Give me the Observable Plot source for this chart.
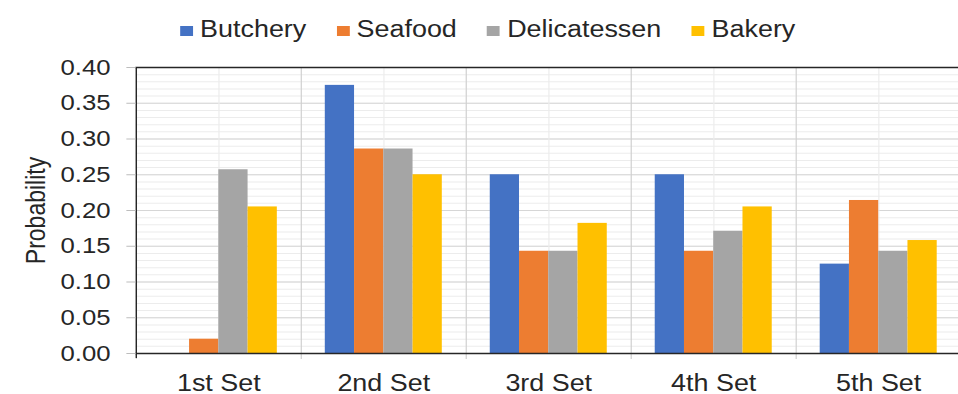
<!DOCTYPE html>
<html>
<head>
<meta charset="utf-8">
<script src="https://cdn.jsdelivr.net/npm/d3@7"></script>
<script src="https://cdn.jsdelivr.net/npm/@observablehq/plot@0.6"></script>
<style>
  html, body { margin: 0; padding: 0; background: #fff; overflow: hidden; }
  #fig { width: 822px; transform: scaleX(1.17); transform-origin: 0 0; font-family: "Liberation Sans", Arial, sans-serif; }
  #legend { height: 50px; box-sizing: border-box; padding-top: 9px; padding-left: 154px; display: flex; align-items: center; font-size: 23px; color: #262626; }
  .item { display: flex; align-items: center; margin-right: 26px; }
  .sw { width: 11px; height: 10px; margin-right: 6px; margin-top: 3px; }
</style>
</head>
<body>
<div id="fig">
  <div id="legend"></div>
  <div id="chart"></div>
</div>
<script>
const sets = ["1st Set", "2nd Set", "3rd Set", "4th Set", "5th Set"];
const categories = ["Butchery", "Seafood", "Delicatessen", "Bakery"];
const butchery     = [0.000, 0.375, 0.250, 0.250, 0.125];
const seafood      = [0.020, 0.286, 0.143, 0.143, 0.214];
const delicatessen = [0.257, 0.286, 0.143, 0.171, 0.143];
const bakery       = [0.205, 0.250, 0.182, 0.205, 0.158];
const colors = ["#4472C4", "#ED7D31", "#A5A5A5", "#FFC000"];
const yTicks = [0, 0.05, 0.10, 0.15, 0.20, 0.25, 0.30, 0.35, 0.40];
const yLabel = "Probability";

const series = [butchery, seafood, delicatessen, bakery];
const data = [];
sets.forEach((s, i) => categories.forEach((c, j) => data.push({set: s, category: c, value: series[j][i]})));

// legend
const legend = document.getElementById("legend");
categories.forEach((c, j) => {
  const it = document.createElement("div");
  it.className = "item";
  const sw = document.createElement("span");
  sw.className = "sw";
  sw.style.background = colors[j];
  const tx = document.createElement("span");
  tx.textContent = c;
  it.appendChild(sw); it.appendChild(tx);
  legend.appendChild(it);
});

const W = 822, ML = 115.4, MR = 0;
const facetW = (W - ML - MR) / sets.length;

const chart = Plot.plot({
  width: W,
  height: 344,
  marginTop: 17,
  marginBottom: 41,
  marginLeft: ML,
  marginRight: MR,
  style: {fontFamily: "Liberation Sans, Arial, sans-serif", background: "#fff"},
  fx: {domain: sets, padding: 0},
  x: {domain: categories, paddingInner: 0, paddingOuter: 0.75},
  y: {domain: [0, 0.4]},
  color: {domain: categories, range: colors},
  marks: [
    Plot.gridY({ticks: 40, stroke: "#ececec", strokeOpacity: 1}),
    Plot.gridY({ticks: yTicks, stroke: "#d6d6d6", strokeOpacity: 1}),
    Plot.frame({anchor: "left", insetLeft: facetW / 2, stroke: "#ececec"}),
    Plot.frame({anchor: "left", stroke: "#cfcfcf", insetBottom: -5}),
    Plot.barY(data, {fx: "set", x: "category", y: "value", fill: "category"}),
    Plot.frame({facet: "super", anchor: "top", stroke: "#262626", strokeWidth: 1.6}),
    Plot.frame({facet: "super", anchor: "bottom", stroke: "#262626", strokeWidth: 1.6}),
    Plot.frame({facet: "super", anchor: "left", stroke: "#262626", strokeWidth: 1.2, insetBottom: -4}),
    Plot.axisY({ticks: yTicks, tickFormat: d3.format(".2f"), tickSize: 8, tickPadding: 14,
      fontSize: 22, stroke: "#bdbdbd", fill: "#262626",
      label: yLabel, labelAnchor: "center", labelOffset: 94, labelArrow: "none"}),
    Plot.axisX({ticks: [], label: null}),
    Plot.axisFx({anchor: "bottom", tickSize: 0, tickPadding: 21, fontSize: 23, fill: "#262626", label: null})
  ]
});
document.getElementById("chart").appendChild(chart);
chart.querySelectorAll("g[aria-label='y-axis label'] text").forEach(t => t.setAttribute("font-size", 23));
</script>
</body>
</html>
